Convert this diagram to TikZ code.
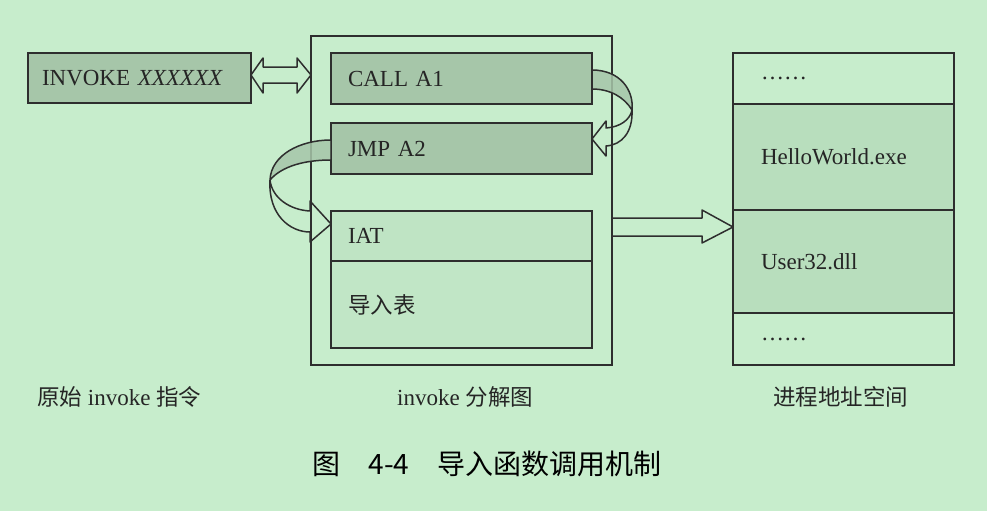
\documentclass[tikz,border=0pt]{standalone}
\usepackage{fontspec}
\setmainfont{Liberation Serif}
\newfontfamily\cjk{Noto Sans CJK SC}
\usetikzlibrary{calc}
\definecolor{bgc}{HTML}{C7EDCC}
\definecolor{darkc}{HTML}{A6C6A9}
\definecolor{midc}{HTML}{B8DEBD}
\definecolor{iatc}{HTML}{BFE4C4}
\definecolor{linec}{HTML}{2E2E2E}
\newcommand\zh[1]{{\cjk\fontsize{22.5}{26}\selectfont #1}}
\tikzset{
  box/.style={draw=linec, line width=1.8pt, outer sep=0pt, inner ysep=0pt, align=left,
    font=\fontsize{23}{26}\selectfont, text=linec!80!black},
  arrowshape/.style={draw=linec, line width=1.5pt, line join=round},
  lbl/.style={inner sep=0pt, font=\fontsize{23}{26}\selectfont, text=linec!80!black},
}
\begin{document}
\begin{tikzpicture}[x=1pt,y=-1pt]
\useasboundingbox (0,0) rectangle (987,511);
\fill[bgc] (0,0) rectangle (987,511);

% left
\node[box, fill=darkc, minimum height=50pt, inner xsep=14pt, text width=195pt] (invoke) at (139.5,78) {INVOKE \textit{XXXXXX}};

% middle
\node[box, fill=bgc, minimum width=301pt, minimum height=329pt, inner sep=0pt] (outer) at (461.5,200.5) {};
\node[box, fill=darkc, minimum height=51pt, inner xsep=17pt, text width=227pt] (call) at (461.5,78.5) {CALL A1};
\node[box, fill=darkc, minimum height=51pt, inner xsep=17pt, text width=227pt] (jmp) at (461.5,148.5) {JMP A2};
\node[box, fill=iatc, minimum height=50pt, inner xsep=17pt, text width=227pt] (iat) at (461.5,236) {IAT};
\node[box, fill=bgc!97!black, minimum height=87pt, inner xsep=17pt, text width=227pt] (imp) at (461.5,304.5) {\zh{导入表}};

% right
\node[box, fill=bgc, minimum height=51pt, inner xsep=28pt, text width=165pt] (r1) at (843.5,78.5) {……};
\node[box, fill=midc, minimum height=106pt, inner xsep=28pt, text width=165pt] (r2) at (843.5,157) {HelloWorld.exe};
\node[box, fill=midc, minimum height=103pt, inner xsep=28pt, text width=165pt] (r3) at (843.5,261.5) {User32.dll};
\node[box, fill=bgc, minimum height=52pt, inner xsep=28pt, text width=165pt] (r4) at (843.5,339) {……};

% double arrow invoke <-> outer
\draw[arrowshape] ([yshift=3pt]invoke.east) -- ++(12,-17) -- ++(0,9) -- ++(34,0) -- ++(0,-9)
  -- ++(14,17) -- ++(-14,18) -- ++(0,-10) -- ++(-34,0) -- ++(0,10) -- cycle;

% big arrow outer -> r3
\draw[arrowshape] ([yshift=-17.5pt]outer.east) -- ++(90,0) -- ++(0,-8) -- ++(31,17)
  -- ++(-31,16) -- ++(0,-7) -- ++(-90,0) -- cycle;

% right ribbon: call -> jmp
\coordinate (rA) at ($(call.north east)+(0,17)$);
\coordinate (rB) at ($(call.north east)+(0,36)$);
\coordinate (rT) at ($(call.north east)+(40,57)$);
\coordinate (rH) at ($(jmp.north east)+(0,16)$);
\filldraw[arrowshape, fill=darkc, fill opacity=0.85] (rA) .. controls +(28,0) and +(2,-20) .. (rT)
  .. controls +(-8,-13) and +(18,0) .. (rB) -- cycle;
\draw[arrowshape] (rT) .. controls +(-2,10) and +(14,-1) .. ($(rH)+(14,-11)$) -- ++(0,-7) -- (rH)
  -- ++(14,17) -- ++(0,-10) .. controls +(16,-1) and +(1,22) .. (rT);

% left ribbon: jmp -> iat
\coordinate (lA) at ($(jmp.north west)+(0,17)$);
\coordinate (lB) at ($(jmp.north west)+(0,37)$);
\coordinate (lT) at ($(jmp.north west)+(-61,57)$);
\coordinate (lH) at ($(iat.north west)+(0,13)$);
\filldraw[arrowshape, fill=darkc, fill opacity=0.85] (lA) .. controls +(-31,0) and +(1,-25) .. (lT)
  .. controls +(12,-14) and +(-26,0) .. (lB) -- cycle;
\draw[arrowshape] (lT) .. controls +(2,18) and +(-20,-1) .. ($(lH)+(-21,-13)$) -- ++(0,-10) -- (lH)
  -- ++(-21,18) -- ++(0,-10) .. controls +(-20,0) and +(-2,35) .. (lT);

% labels
\node[lbl, anchor=west] (l1) at (37,397) {\zh{原始} invoke \zh{指令}};
\node[lbl, anchor=west] (l2) at (397,397) {invoke \zh{分解图}};
\node[lbl, anchor=west] (l3) at (773,397) {\zh{进程地址空间}};

% caption
\node[inner sep=0pt, font=\cjk\fontsize{28}{32}\selectfont, text=black] (cap) at (487,464) {图\quad 4-4\quad 导入函数调用机制};
\end{tikzpicture}
\end{document}
